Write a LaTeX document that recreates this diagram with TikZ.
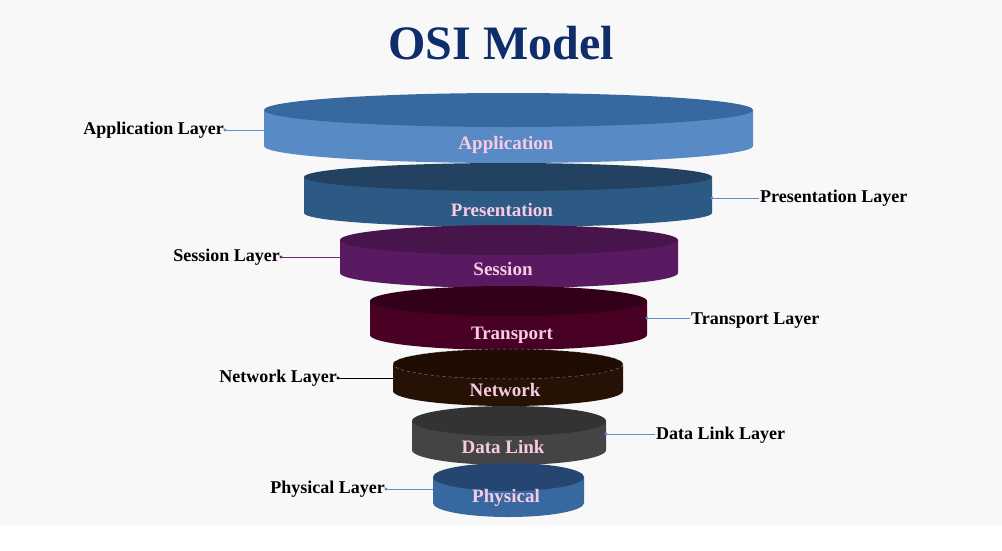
\documentclass[tikz,border=0pt]{standalone}
\usepackage{fontspec}
\setmainfont{Liberation Serif}
\tikzset{
  lab/.style={font=\bfseries\fontsize{18}{20}\selectfont, text=black, inner sep=1pt},
  disktext/.style={font=\bfseries\fontsize{19}{21}\selectfont, text=pinktxt},
  conn/.style={line width=0.8pt},
  dot/.style={circle, fill, inner sep=1.1pt}
}
\definecolor{pinktxt}{HTML}{F7CBE3}
\definecolor{bg}{HTML}{F8F8F8}
\definecolor{navy}{HTML}{0F2D6B}
\definecolor{appT}{HTML}{3868A0}\definecolor{appS}{HTML}{588AC6}
\definecolor{preT}{HTML}{234262}\definecolor{preS}{HTML}{2D5A85}
\definecolor{sesT}{HTML}{47154B}\definecolor{sesS}{HTML}{5A1A61}
\definecolor{traT}{HTML}{320018}\definecolor{traS}{HTML}{480025}
\definecolor{netT}{HTML}{1F0C02}\definecolor{netS}{HTML}{251204}
\definecolor{datT}{HTML}{333333}\definecolor{datS}{HTML}{444444}
\definecolor{phyT}{HTML}{244670}\definecolor{phyS}{HTML}{3868A0}
\definecolor{lblue}{HTML}{5B8FD0}\definecolor{lpurp}{HTML}{6A2A70}
% #1 left #2 right #3 top center y #4 bottom center y #5 ry #6 top col #7 side col #8 name #9 text
\newcommand{\mycyl}[9]{%
  \pgfmathsetmacro{\cx}{(#1+#2)/2}\pgfmathsetmacro{\rx}{(#2-#1)/2}%
  \fill[#7] (#1,-#3) -- (#1,-#4) arc[start angle=180,end angle=360,x radius=\rx,y radius=#5] -- (#2,-#3) -- cycle;
  \fill[#6] (\cx,-#3) ellipse[x radius=\rx,y radius=#5];
  \coordinate (#8L) at (#1,-#4+4);
  \coordinate (#8R) at (#2,-#4+4);
}
\begin{document}
\begin{tikzpicture}[x=1pt,y=1pt]
\useasboundingbox (0,0) rectangle (1002,-550);
\fill[white] (0,0) rectangle (1002,-550);
\fill[bg] (0,0) rectangle (1002,-525);
\node[font=\bfseries\fontsize{48}{50}\selectfont, text=navy] (title) at (501,-43) {OSI Model};
\mycyl{264}{753}{110}{146}{17}{appT}{appS}{app}{}
\mycyl{304}{712}{177}{213}{14}{preT}{preS}{pre}{}
\mycyl{340}{678}{240}{273}{15}{sesT}{sesS}{ses}{}
\mycyl{370}{647}{301}{335}{15}{traT}{traS}{tra}{}
\mycyl{393}{623}{364}{391}{15}{netT}{netS}{net}{}
\draw[white, opacity=0.45, dashed, line width=0.5pt] (508,-364) ellipse[x radius=115,y radius=15];
\mycyl{412}{606}{421}{450}{15}{datT}{datS}{dat}{}
\mycyl{433}{584}{477}{503}{14}{phyT}{phyS}{phy}{}
\node[disktext] (tapp) at (506,-145) {Application};
\node[disktext] (tpre) at (502,-210) {Presentation};
\node[disktext] (tses) at (503,-269) {Session};
\node[disktext] (ttra) at (512,-335) {Transport};
\node[disktext] (tnet) at (505,-390) {Network};
\node[disktext] (tdat) at (503,-447) {Data Link};
\node[disktext] (tphy) at (506,-498) {Physical};
% labels
\node[lab, anchor=east] (lapp) at (225,-130) {Application Layer};
\node[lab, anchor=west] (lpre) at (759,-198) {Presentation Layer};
\node[lab, anchor=east] (lses) at (281,-257) {Session Layer};
\node[lab, anchor=west] (ltra) at (690,-321) {Transport Layer};
\node[lab, anchor=east] (lnet) at (338,-378) {Network Layer};
\node[lab, anchor=west] (ldat) at (655,-435) {Data Link Layer};
\node[lab, anchor=east] (lphy) at (386,-489) {Physical Layer};
\coordinate (capp) at (264,-130); \coordinate (cpre) at (712,-198);
\coordinate (cses) at (340,-257); \coordinate (ctra) at (647,-318);
\coordinate (cnet) at (393,-378); \coordinate (cdat) at (606,-434);
\coordinate (cphy) at (433,-489);
\draw[conn, lblue] (lapp.east) -- (capp); \fill[lblue] (lapp.east) circle (1.6);
\draw[conn, lblue] (cpre) -- (lpre.west); \fill[lblue] (cpre) circle (1.6);
\draw[conn, lpurp] (lses.east) -- (cses); \fill[lpurp] (lses.east) circle (1.6);
\draw[conn, lblue] (ctra) -- (ltra.west |- ctra); \fill[lblue] (ctra) circle (1.6);
\draw[conn, black] (lnet.east) -- (cnet); \fill[black] (lnet.east) circle (1.6);
\draw[conn, lblue] (cdat) -- (ldat.west |- cdat); \fill[lblue] (cdat) circle (1.6);
\draw[conn, lblue] (lphy.east) -- (cphy); \fill[lblue] (lphy.east) circle (1.6);
\end{tikzpicture}
\end{document}
